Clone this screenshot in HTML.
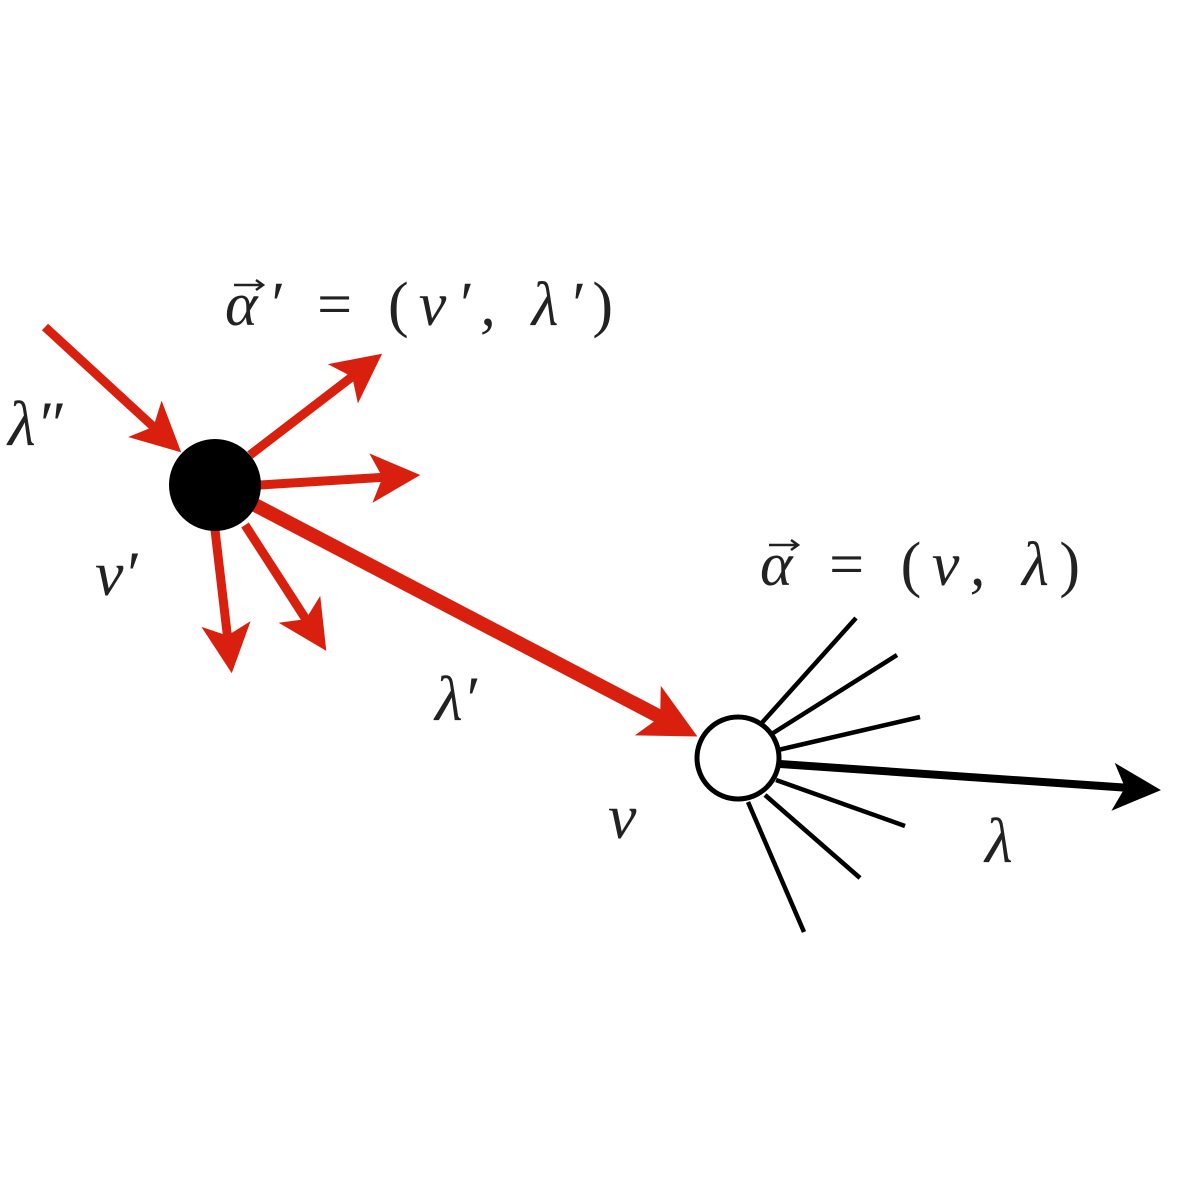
<!DOCTYPE html>
<html><head><style>
html,body{margin:0;padding:0;background:#fff;width:1200px;height:1200px;overflow:hidden}
text{font-family:"Liberation Serif",serif;font-style:italic;fill:#222}
</style></head><body>
<svg width="1200" height="1200" viewBox="0 0 1200 1200" xmlns="http://www.w3.org/2000/svg">
<defs>
<marker id="r" markerWidth="5.5" markerHeight="5.5" refX="3.8" refY="2.75" orient="auto" markerUnits="strokeWidth"><path d="M0,0 L5.5,2.75 L0,5.5 L1.3,2.75 Z" fill="#d9200f"/></marker>
<marker id="rt" markerWidth="4" markerHeight="4" refX="3" refY="2" orient="auto" markerUnits="strokeWidth"><path d="M0,0 L4,2 L0,4 L1,2 Z" fill="#d9200f"/></marker>
<marker id="b" markerWidth="6" markerHeight="6" refX="4" refY="3" orient="auto" markerUnits="strokeWidth"><path d="M0,0 L6,3 L0,6 L1.5,3 Z" fill="#000"/></marker>
</defs>
<g stroke="#d9200f" stroke-width="9" fill="none">
<line x1="45" y1="327" x2="170" y2="442" marker-end="url(#r)"/>
<line x1="250" y1="455" x2="370" y2="363" marker-end="url(#r)"/>
<line x1="260" y1="485" x2="405" y2="476" marker-end="url(#r)"/>
<line x1="215" y1="530" x2="230" y2="658" marker-end="url(#r)"/>
<line x1="245" y1="525" x2="318" y2="638" marker-end="url(#r)"/>
<line x1="255" y1="505" x2="685" y2="730" stroke-width="14" marker-end="url(#rt)"/>
</g>
<circle cx="215" cy="485" r="46" fill="#000"/>
<g stroke="#000" stroke-width="4.5">
<line x1="760" y1="725" x2="856" y2="618"/>
<line x1="770" y1="735" x2="897" y2="655"/>
<line x1="778" y1="750" x2="920" y2="717"/>
<line x1="776" y1="780" x2="905" y2="826"/>
<line x1="765" y1="795" x2="860" y2="878"/>
<line x1="748" y1="802" x2="804" y2="932"/>
<line x1="780" y1="764" x2="1145" y2="789" stroke-width="8" marker-end="url(#b)"/>
</g>
<circle cx="738" cy="758" r="41" fill="#fff" stroke="#000" stroke-width="5"/>
<g stroke="#222" stroke-width="2.5" fill="none">
<path d="M234 285 L262 285 M256 280 L263 285 L256 290"/>
<path d="M769 545 L797 545 M791 540 L798 545 L791 550"/>
</g>
<text x="8" y="445" font-size="64">λ″</text>
<text x="95" y="595" font-size="64">ν′</text>
<text x="225" y="325" font-size="62" textLength="388" lengthAdjust="spacing">α′ <tspan font-style="normal">=</tspan> <tspan font-style="normal">(</tspan>ν′, λ′<tspan font-style="normal">)</tspan></text>
<text x="760" y="585" font-size="62" textLength="320" lengthAdjust="spacing">α <tspan font-style="normal">=</tspan> <tspan font-style="normal">(</tspan>ν, λ<tspan font-style="normal">)</tspan></text>
<text x="435" y="720" font-size="64">λ′</text>
<text x="608" y="838" font-size="64">ν</text>
<text x="985" y="862" font-size="64">λ</text>
</svg>
</body></html>
